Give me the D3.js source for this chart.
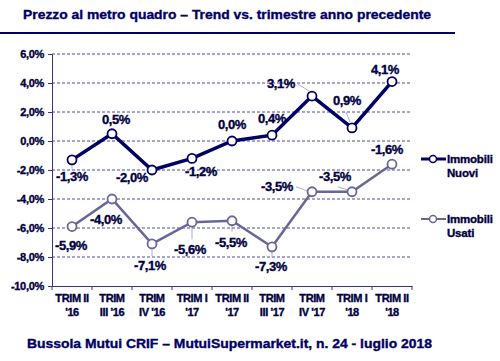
<!DOCTYPE html>
<html><head><meta charset="utf-8">
<script src="https://cdn.jsdelivr.net/npm/d3@7/dist/d3.min.js"></script>
<style>body{margin:0;background:#fff}svg{display:block}text{font-family:"Liberation Sans",Arial,sans-serif;font-weight:bold;stroke:currentColor;stroke-width:0.35px}</style>
</head><body><svg id="c" width="500" height="361"></svg>
<script>
const categories = [["TRIM II","'16"],["TRIM","III '16"],["TRIM","IV '16"],["TRIM I","'17"],["TRIM II","'17"],["TRIM","III '17"],["TRIM","IV '17"],["TRIM I","'18"],["TRIM II","'18"]];
const nuovi = [-1.3, 0.5, -2.0, -1.2, 0.0, 0.4, 3.1, 0.9, 4.1];
const usati = [-5.9, -4.0, -7.1, -5.6, -5.5, -7.3, -3.5, -3.5, -1.6];
const yTicks = [6,4,2,0,-2,-4,-6,-8,-10];
// label offsets [dx, dy] relative to point (layout)
const nuoviLbl = [[0,21],[4,-10],[-20,12],[9,18],[0,-12],[0,-12],[-31,-8],[-5,-23],[-7,-8]];
const usatiLbl = [[-1,23],[-6,25],[-2,26],[-2,32],[-1,26],[-1,24],[-35,-1],[-17,-11],[-5,-10]];
// leader segments [dx1,dy1,dx2,dy2] relative to point (layout)
const nuoviLead = [[0,5,0,9],null,null,null,null,null,[-3,-5,-14,-12],[-2,-6,-6,-16],null];
const usatiLead = [null,null,[0,5,0,12],[0,5,0,17],[0,5,0,11],[0,5,0,11],[-5,-1,-16,-5],[-5,-2,-14,-5],null];

const fmt = v => (v<0?"-":"") + Math.abs(v).toFixed(1).replace(".",",") + "%";
const navy = "#000066", usCol = "#666699", txt = "#000040";
const svg = d3.select("#c");
const x = d3.scaleBand().domain(d3.range(categories.length)).range([52,412]);
const y = d3.scaleLinear().domain([-10,6]).range([286,54]);
const cx = i => x(i)+x.bandwidth()/2;

svg.append("text").attr("x",23).attr("y",19).attr("font-size",13).attr("fill",navy).style("color",navy).attr("textLength",408).attr("lengthAdjust","spacingAndGlyphs")
  .text("Prezzo al metro quadro – Trend vs. trimestre anno precedente");
svg.append("line").attr("x1",0).attr("x2",455).attr("y1",33).attr("y2",33).attr("stroke",navy).attr("stroke-width",2);

// gridlines
svg.append("g").selectAll("line").data(yTicks.filter(t=>t>-10)).join("line")
  .attr("x1",52).attr("x2",412).attr("y1",d=>y(d)).attr("y2",d=>y(d))
  .attr("stroke","#4d4d99").attr("stroke-width",1).attr("stroke-dasharray","3,2");

const ya = svg.append("g").attr("transform","translate(52,0)")
  .call(d3.axisLeft(y).tickValues(yTicks).tickSize(4).tickFormat(fmt));
ya.select(".domain").attr("stroke","#333388");
ya.selectAll(".tick line").attr("stroke","#333388");
ya.selectAll("text").attr("font-size",11).attr("fill",txt).style("color",txt).attr("dx",-1).attr("letter-spacing",-0.3);

const xa = svg.append("g").attr("transform","translate(0,286)")
  .call(d3.axisBottom(x).tickSize(0).tickFormat(""));
xa.select(".domain").attr("stroke","#333388");
svg.append("g").selectAll("line").data(d3.range(categories.length+1)).join("line")
  .attr("x1",i=>52+i*x.step()).attr("x2",i=>52+i*x.step()).attr("y1",286).attr("y2",290).attr("stroke","#333388");
const xl = svg.append("g").selectAll("text").data(categories).join("text")
  .attr("text-anchor","middle").attr("font-size",11).attr("fill",txt).style("color",txt).attr("letter-spacing",-0.4);
xl.append("tspan").attr("x",(d,i)=>cx(i)).attr("y",302).text(d=>d[0]);
xl.append("tspan").attr("x",(d,i)=>cx(i)).attr("y",316).text(d=>d[1]);

const line = d3.line().x((d,i)=>cx(i)).y(d=>y(d));
function series(data, col, w, lbl, lead){
  const g = svg.append("g");
  const leads = data.map((d,i)=>({i, v:d, s:lead[i]})).filter(o=>o.s);
  g.selectAll("line").data(leads).join("line")
    .attr("x1",o=>cx(o.i)+o.s[0]).attr("y1",o=>y(o.v)+o.s[1])
    .attr("x2",o=>cx(o.i)+o.s[2]).attr("y2",o=>y(o.v)+o.s[3])
    .attr("stroke","#9999bb").attr("stroke-width",0.8);
  g.append("path").datum(data).attr("d",line).attr("fill","none").attr("stroke",col).attr("stroke-width",w);
  g.selectAll("circle").data(data).join("circle").attr("cx",(d,i)=>cx(i)).attr("cy",d=>y(d))
    .attr("r",4.5).attr("fill","#fff").attr("stroke",col).attr("stroke-width",1.8);
  g.selectAll("text").data(data).join("text")
    .attr("x",(d,i)=>cx(i)+lbl[i][0]).attr("y",(d,i)=>y(d)+lbl[i][1])
    .attr("text-anchor","middle").attr("font-size",13).attr("fill",txt).style("color",txt).attr("letter-spacing",-0.4).text(fmt);
}
series(usati, usCol, 2.5, usatiLbl, usatiLead);
series(nuovi, navy, 3.5, nuoviLbl, nuoviLead);

// legend
const legend = [{name:["Immobili","Nuovi"],col:navy,w:3,y:159},{name:["Immobili","Usati"],col:usCol,w:2,y:219}];
const lg = svg.append("g").selectAll("g").data(legend).join("g");
lg.append("line").attr("x1",421).attr("x2",446).attr("y1",d=>d.y).attr("y2",d=>d.y).attr("stroke",d=>d.col).attr("stroke-width",d=>d.w);
lg.append("circle").attr("cx",433).attr("cy",d=>d.y).attr("r",3.5).attr("fill","#fff").attr("stroke",d=>d.col).attr("stroke-width",1.5);
const lt = lg.append("text").attr("font-size",11.5).attr("fill",txt).style("color",txt).attr("letter-spacing",-0.2);
lt.append("tspan").attr("x",447).attr("y",d=>d.y+4).text(d=>d.name[0]);
lt.append("tspan").attr("x",447).attr("y",d=>d.y+18).text(d=>d.name[1]);

svg.append("text").attr("x",27).attr("y",348).attr("font-size",12.5).attr("fill",navy).style("color",navy).attr("textLength",405).attr("lengthAdjust","spacingAndGlyphs")
  .text("Bussola Mutui CRIF – MutuiSupermarket.it, n. 24 - luglio 2018");
</script></body></html>
